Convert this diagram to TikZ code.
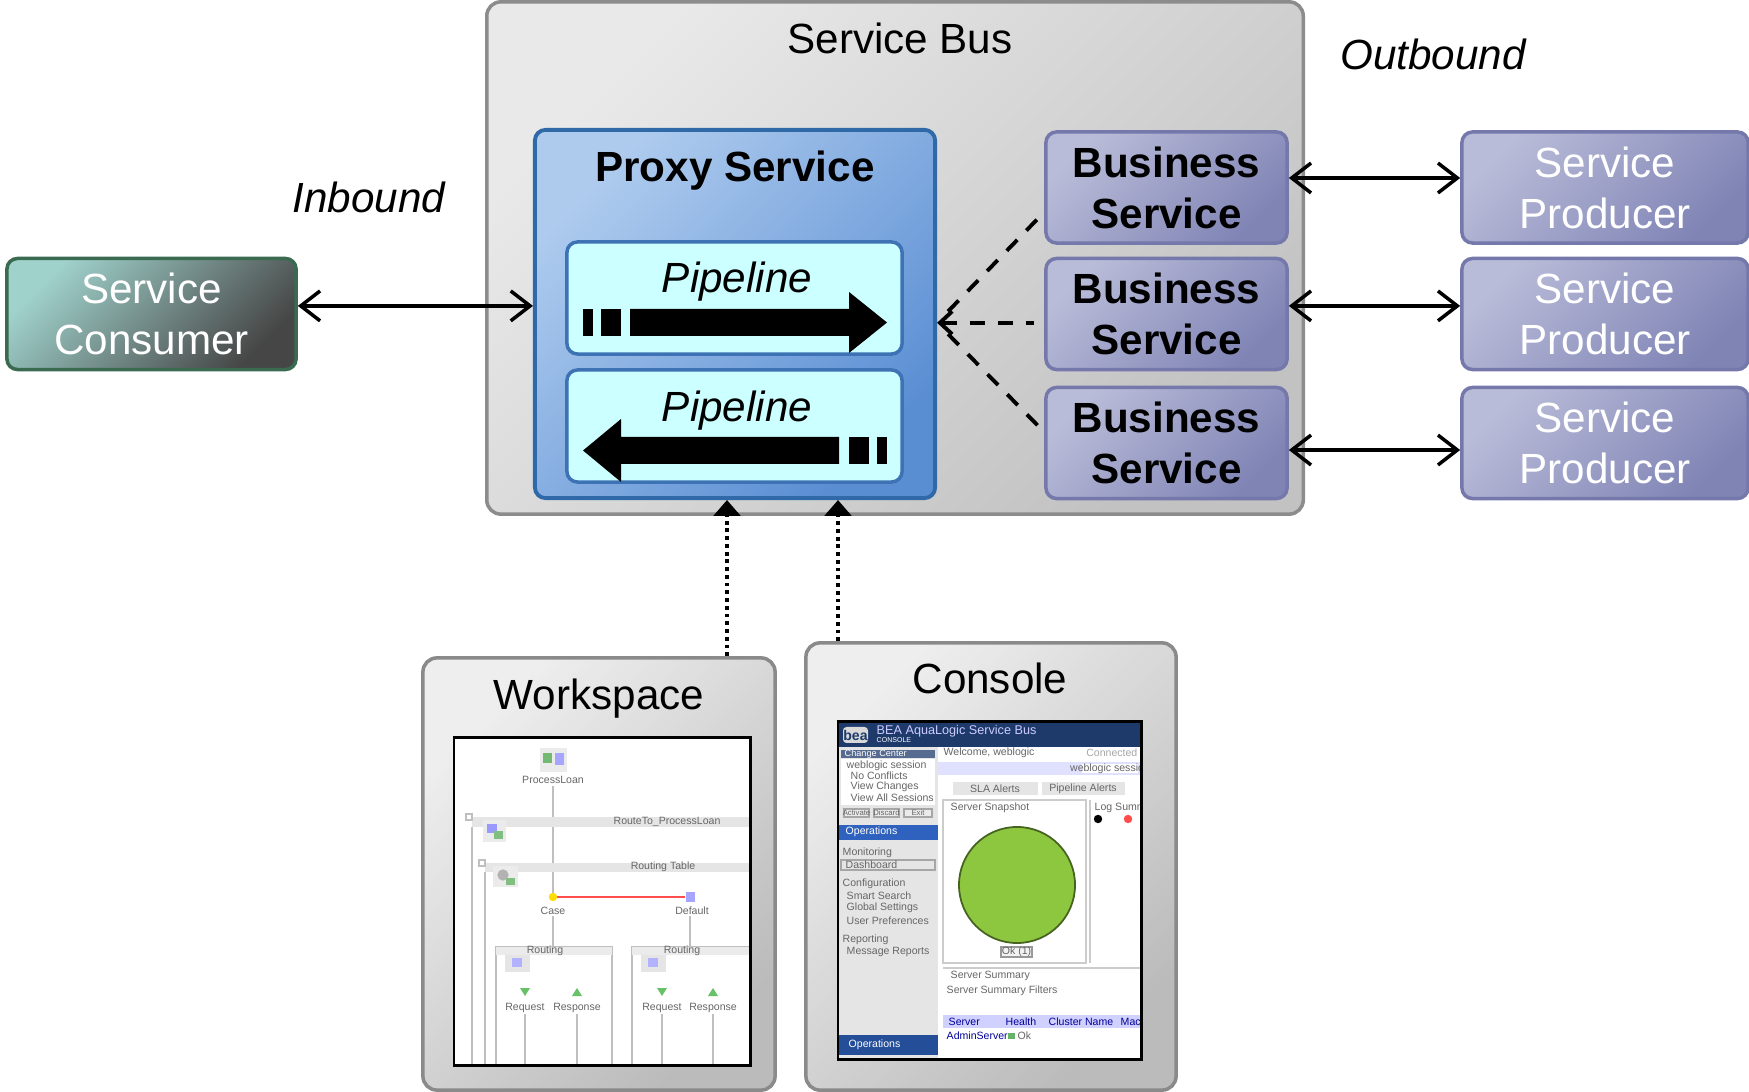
\documentclass[tikz,border=0pt]{standalone}
\usepackage{fontspec}
\setmainfont{Liberation Sans}
\usetikzlibrary{arrows.meta}

\definecolor{busA}{HTML}{E9E9E9}
\definecolor{busB}{HTML}{C2C2C2}
\definecolor{busLine}{HTML}{8C8C8C}
\definecolor{proxyA}{HTML}{AECBEE}
\definecolor{proxyB}{HTML}{5A8ED3}
\definecolor{proxyLine}{HTML}{2F69A8}
\definecolor{pipeFill}{HTML}{CCFFFF}
\definecolor{pipeLine}{HTML}{3D72B4}
\definecolor{bizA}{HTML}{B9BCD8}
\definecolor{bizB}{HTML}{8084B5}
\definecolor{bizLine}{HTML}{7478AB}
\definecolor{consA}{HTML}{A0D2CC}
\definecolor{consB}{HTML}{464646}
\definecolor{consLine}{HTML}{3A6B51}
\definecolor{panelA}{HTML}{EEEEEE}
\definecolor{panelB}{HTML}{BBBBBB}
\definecolor{panelLine}{HTML}{8A8A8A}
\definecolor{beaNavy}{HTML}{1E3A6A}
\definecolor{beaBlue}{HTML}{2E62BE}
\definecolor{okGreen}{HTML}{8DC63F}

\tikzset{
  box/.style={rounded corners=3pt, inner sep=0pt, align=center, font=\fontsize{12}{14.5}\selectfont},
  busbox/.style={box, rounded corners=4pt, draw=busLine, line width=1pt, top color=busA, bottom color=busB, shading angle=45},
  proxybox/.style={box, draw=proxyLine, line width=1.1pt, top color=proxyA, bottom color=proxyB, shading angle=45},
  pipebox/.style={box, draw=pipeLine, line width=1pt, fill=pipeFill},
  consbox/.style={box, draw=consLine, line width=1pt, top color=consA, bottom color=consB, shading angle=45, text=white},
  bizbox/.style={box, draw=bizLine, line width=1pt, top color=bizA, bottom color=bizB, shading angle=45, font=\fontsize{12}{14.5}\selectfont\bfseries},
  prodbox/.style={box, draw=bizLine, line width=1pt, top color=bizA, bottom color=bizB, shading angle=45, text=white},
  panelbox/.style={box, rounded corners=4pt, draw=panelLine, line width=1pt, top color=panelA, bottom color=panelB, shading angle=45},
  lbl/.style={inner sep=0pt, anchor=base, font=\fontsize{12}{14.5}\selectfont},
  bi/.style={line width=1pt, >={Straight Barb[length=5.5pt,width=8.5pt]}, <->},
  calls/.style={line width=1.1pt, dash pattern=on 4.3pt off 3.7pt},
  calltip/.style={calls, >={Straight Barb[length=3.5pt,width=6.5pt]}, <-},
  edit/.style={line width=1.1pt, dash pattern=on 1.1pt off 1.1pt, -{Triangle[length=4.5pt,width=7.5pt]}},
  shottext/.style={inner sep=0pt, font=\fontsize{3}{3.5}\selectfont, text=black!60},
  shotline/.style={black!25, line width=0.5pt},
}

\begin{document}
\begin{tikzpicture}[x=0.01cm,y=-0.01cm]
\useasboundingbox (0,0) rectangle (1749,1092);

% service bus with proxy
\node[busbox, minimum width=8.16cm, minimum height=5.12cm] (bus) at (895,258) {};
\node[lbl] (busname) at (900,54) {Service Bus};
\node[lbl, font=\fontsize{12}{14.5}\selectfont\itshape] (outname) at (1433,70) {Outbound};
\node[lbl, font=\fontsize{12}{14.5}\selectfont\itshape] (inname) at (369,213) {Inbound};

\node[proxybox, minimum width=4cm, minimum height=3.68cm] (proxy) at (735,314) {};
\node[lbl, font=\fontsize{12}{14.5}\selectfont\bfseries] (proxyname) at (735,182) {Proxy Service};

\node[pipebox, minimum width=3.35cm, minimum height=1.12cm] (pipe1) at (734.5,298) {};
\node[lbl, font=\fontsize{12}{14.5}\selectfont\itshape] (pipe1name) at (737,293) {Pipeline};
\node[pipebox, minimum width=3.35cm, minimum height=1.12cm] (pipe2) at (734.5,426) {};
\node[lbl, font=\fontsize{12}{14.5}\selectfont\itshape] (pipe2name) at (737,422) {Pipeline};

\fill (583,309) rectangle (593,336);
\fill (601,309) rectangle (621,336);
\fill (630,309) -- (849,309) -- (849,292) -- (887,322.5) -- (849,353) -- (849,336) -- (630,336) -- cycle;
\fill (877,437) rectangle (887,464);
\fill (849,437) rectangle (869,464);
\fill (839,437) -- (621,437) -- (621,419) -- (583,450.5) -- (621,482) -- (621,464) -- (839,464) -- cycle;

% consumer, business services, producers
\node[consbox, minimum width=2.89cm, minimum height=1.11cm] (cons) at (151.5,314) {Service\\Consumer};
\foreach \i/\y in {1/187.5,2/314,3/443}{
  \node[bizbox, minimum width=2.41cm, minimum height=1.11cm] (biz\i) at (1166.5,\y) {Business\\Service};
  \node[prodbox, minimum width=2.86cm, minimum height=1.11cm] (prod\i) at (1605,\y) {Service\\Producer};
}

\draw[bi] ([yshift=2.3pt]cons.east) -- ([yshift=2.3pt]proxy.west);
\draw[bi] ([yshift=2.7pt]biz1.east) -- ([yshift=2.7pt]prod1.west);
\draw[bi] ([yshift=2.3pt]biz2.east) -- ([yshift=2.3pt]prod2.west);
\draw[bi] ([yshift=-2pt]biz3.east) -- ([yshift=-2pt]prod3.west);

\coordinate (hub) at ([yshift=-2.5pt]proxy.east);
\draw[calls, shorten <=4.5pt] (hub) -- ([yshift=-7pt]biz1.west);
\draw[calltip] (hub) -- ([xshift=-3pt,yshift=-2.5pt]biz2.west);
\draw[calls, shorten <=4.5pt] (hub) -- ([yshift=3.1pt]biz3.west);

% tools
\node[panelbox, minimum width=3.52cm, minimum height=4.32cm] (ws) at (599,874) {};
\node[lbl] (wsname) at (599,710) {Workspace};
\node[panelbox, minimum width=3.70cm, minimum height=4.47cm] (con) at (991,866.5) {};
\node[lbl] (conname) at (990,694) {Console};

\coordinate (wsx) at (727,0);
\coordinate (conx) at (838,0);
\draw[edit] (ws.north -| wsx) -- (proxy.south -| wsx);
\draw[edit] (con.north -| conx) -- (proxy.south -| conx);

% workspace screenshot
\begin{scope}
\clip (454,738) rectangle (750,1065);
\fill[white] (454,738) rectangle (750,1065);
\draw[shotline] (553,786) -- (553,893);
\draw[shotline] (553,916) -- (553,947);
\draw[shotline] (690,916) -- (690,947);
\draw[shotline] (472,827) -- (472,1065);
\draw[shotline] (485,872) -- (485,1065);
\fill[black!10] (472,817) rectangle (750,827);
\fill[black!10] (485,863) rectangle (750,872);
\draw[shotline] (466,814) rectangle (472,820);
\draw[shotline] (479,860) rectangle (485,866);
\fill[black!8] (540,748) rectangle (567,772);
\fill[green!50!black!55] (543,753) rectangle (552,763);
\fill[blue!35] (555,753) rectangle (564,765);
\fill[black!8] (483,820) rectangle (506,842);
\fill[blue!40] (487,824) rectangle (497,833);
\fill[green!50!black!50] (494,831) rectangle (503,839);
\fill[black!8] (493,866) rectangle (518,887);
\fill[black!30] (503,875) circle (1.6pt);
\fill[green!50!black!50] (506,878) rectangle (515,885);
\draw[red!70, line width=0.4pt] (553,897) -- (685,897);
\fill[yellow!80!orange] (553,897) circle (1.2pt);
\fill[blue!35] (686,892) rectangle (695,902);
\draw[shotline] (496,947) rectangle (612,1070);
\draw[shotline] (632,947) rectangle (752,1070);
\fill[black!8] (496,947) rectangle (612,955);
\fill[black!8] (632,947) rectangle (752,955);
\fill[black!10] (505,955) rectangle (530,972);
\fill[black!10] (641,955) rectangle (666,972);
\fill[blue!30] (512,958) rectangle (522,967);
\fill[blue!30] (648,958) rectangle (658,967);
\foreach \px in {525,662}{
  \fill[green!60!black!60] (\px-5,988) -- (\px+5,988) -- (\px,996) -- cycle;
  \draw[shotline] (\px,1014) -- (\px,1065);
}
\foreach \px in {577,713}{
  \fill[green!60!black!60] (\px-5,996) -- (\px+5,996) -- (\px,988) -- cycle;
  \draw[shotline] (\px,1014) -- (\px,1065);
}
\foreach \t/\px/\py [count=\i] in {ProcessLoan/553/780, RouteTo\_ProcessLoan/667/822, Routing Table/663/867, Case/553/911, Default/692/911, Routing/545/951, Routing/682/951, Request/525/1008, Response/577/1008, Request/662/1008, Response/713/1008}
  \node[shottext] (wst\i) at (\px,\py) {\t};
\end{scope}
\node[draw, line width=0.8pt, inner sep=0pt, minimum width=2.96cm, minimum height=3.27cm] (wsshot) at (602,901.5) {};

% console screenshot
\begin{scope}
\clip (838,722) rectangle (1141,1059);
\fill[white] (838,722) rectangle (1141,1059);
\fill[beaNavy] (838,722) rectangle (1141,747);
\fill[black!15, rounded corners=1pt] (843,727) rectangle (868,743);
\node[shottext, text=beaNavy, font=\fontsize{4}{4}\selectfont\bfseries] (bealogo) at (855.5,735) {bea};
\node[shottext, anchor=west, text=white!80!blue, font=\fontsize{3.6}{4}\selectfont] (beatitle) at (876,731) {BEA AquaLogic Service Bus};
\node[shottext, anchor=west, text=white!70, font=\fontsize{2}{2}\selectfont] (beasub) at (876,740) {CONSOLE};
\fill[black!10] (838,747) rectangle (938,1059);
\fill[beaNavy!75] (841,750) rectangle (935,758);
\node[shottext, anchor=west, text=white, font=\fontsize{2.6}{3}\selectfont] (cchead) at (844,754) {Change Center};
\fill[white] (841,759) rectangle (935,805);
\foreach \t/\px/\py [count=\i] in {weblogic session/846/766, No Conflicts/850/776, View Changes/850/787, View All Sessions/850/798}
  \node[shottext, anchor=west] (cc\i) at (\px,\py) {\t};
\foreach \t/\xa/\xb [count=\i] in {Activate/844/869, Discard/874/899, Exit/904/932}{
  \draw[black!35, fill=black!8, line width=0.3pt] (\xa,809) rectangle (\xb,817);
  \node[shottext, font=\fontsize{2.2}{2.5}\selectfont] (btn\i) at ({(\xa+\xb)/2},813) {\t};
}
\fill[beaBlue] (838,825) rectangle (938,840);
\node[shottext, anchor=west, text=white] (opsname) at (845,832) {Operations};
\draw[black!35, line width=0.3pt] (841,860) rectangle (935,870);
\foreach \t/\px/\py [count=\i] in {Monitoring/842/853, Dashboard/845/865, Configuration/842/884, Smart Search/846/896, Global Settings/846/908, User Preferences/846/921, Reporting/842/940, Message Reports/846/952}
  \node[shottext, anchor=west] (nav\i) at (\px,\py) {\t};
\fill[beaBlue!80!black] (838,1035) rectangle (938,1055);
\node[shottext, anchor=west, text=white] (opsname2) at (848,1045) {Operations};
\node[shottext, anchor=west] (welcome) at (943,753) {Welcome, weblogic};
\node[shottext, anchor=east, text=black!35] (connected) at (1138,753) {Connected};
\fill[blue!12] (938,762) rectangle (1141,775);
\fill[white] (1082,764) rectangle (1138,773);
\node[shottext] (sessbox) at (1110,768.5) {weblogic session};
\fill[black!10] (953,782) rectangle (1038,795);
\fill[black!10] (1042,782) rectangle (1125,795);
\node[shottext] (tab1) at (995,788.5) {SLA Alerts};
\node[shottext] (tab2) at (1083,788.5) {Pipeline Alerts};
\draw[black!20, line width=0.3pt] (943,800) rectangle (1086,963);
\draw[black!20, line width=0.3pt] (1090,800) -- (1090,963);
\node[shottext, anchor=west] (snap) at (950,808) {Server Snapshot};
\node[shottext, anchor=west] (logsum) at (1094,808) {Log Summary};
\fill[black] (1098,819) circle (1.2pt);
\fill[red!70] (1128,819) circle (1.2pt);
\draw[okGreen!50!black, fill=okGreen, line width=0.5pt] (1017,885) circle (0.58cm);
\draw[black!40, fill=black!5, line width=0.3pt] (1001,947) rectangle (1032,957);
\node[shottext] (okkey) at (1016.5,952) {Ok (1)};
\draw[black!20, line width=0.3pt] (943,968) -- (1141,968);
\node[shottext, anchor=west] (srvsum) at (950,976) {Server Summary};
\node[shottext, anchor=west] (srvfil) at (946,991) {Server Summary Filters};
\fill[blue!18] (943,1015) rectangle (1141,1028);
\foreach \t/\px [count=\i] in {Server/948, Health/1005, Cluster Name/1048, Machine/1120}
  \node[shottext, anchor=west, text=blue!60!black] (col\i) at (\px,1021.5) {\t};
\node[shottext, anchor=west, text=blue!60!black] (adminsrv) at (946,1036) {AdminServer};
\fill[green!50!black!60] (1008,1033) rectangle (1015,1039);
\node[shottext, anchor=west] (okrow) at (1017,1036) {Ok};
\end{scope}
\node[draw, line width=0.8pt, inner sep=0pt, minimum width=3.03cm, minimum height=3.37cm] (conshot) at (989.5,890.5) {};
\end{tikzpicture}
\end{document}
